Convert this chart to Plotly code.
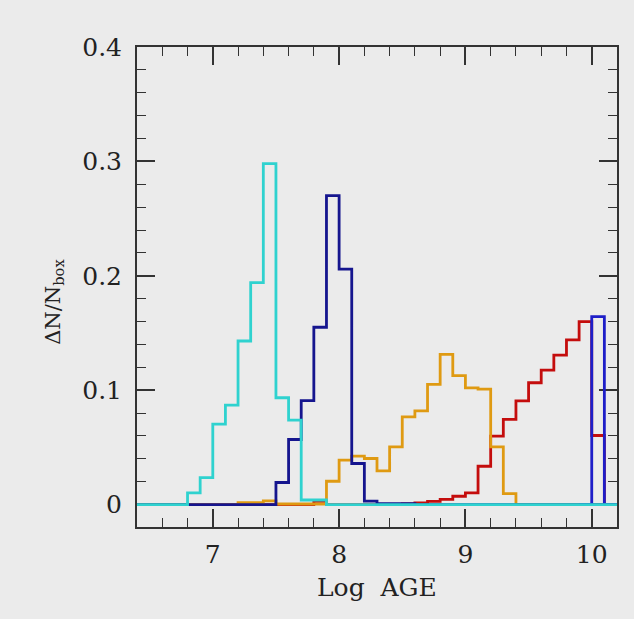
import plotly.graph_objects as go

# Bin edges (Log AGE)
log_age_edges = [6.4, 6.5, 6.6, 6.7, 6.8, 6.9, 7.0, 7.1, 7.2, 7.3,
                 7.4, 7.5, 7.6, 7.7, 7.8, 7.9, 8.0, 8.1, 8.2, 8.3,
                 8.4, 8.5, 8.6, 8.7, 8.8, 8.9, 9.0, 9.1, 9.2, 9.3,
                 9.4, 9.5, 9.6, 9.7, 9.8, 9.9, 10.0, 10.1, 10.2]

# Fractions per bin (dN/N_box), one value per bin (38 bins)
cyan_frac = [0, 0, 0, 0,
             0.0102, 0.0236, 0.0703, 0.087, 0.143, 0.194, 0.298, 0.0934, 0.0738, 0.0040, 0.0040,
             0, 0, 0, 0, 0, 0, 0, 0, 0, 0, 0, 0, 0, 0, 0, 0, 0, 0, 0, 0, 0, 0, 0]

navy_frac = [0, 0, 0, 0, 0, 0, 0, 0, 0, 0, 0,
             0.0193, 0.0569, 0.0908, 0.155, 0.270, 0.2058, 0.0359, 0.003, 0.0009, 0.0009, 0.0008,
             0, 0, 0, 0, 0, 0, 0, 0, 0, 0, 0, 0, 0, 0, 0, 0]

orange_frac = [0, 0, 0, 0, 0, 0, 0, 0,
               0.0017, 0.0017, 0.0033, 0.0005, 0.0005, 0.0005, 0.0005,
               0.0204, 0.0388, 0.0423, 0.0403, 0.0294, 0.0504, 0.0767, 0.082, 0.105, 0.1313,
               0.1128, 0.102, 0.101, 0.0504, 0.0096,
               0, 0, 0, 0, 0, 0, 0, 0]

red_frac = [0, 0, 0, 0, 0, 0, 0, 0, 0, 0, 0, 0, 0, 0,
            0.0028, 0, 0, 0, 0, 0, 0,
            0.0007, 0.0015, 0.0028, 0.0045, 0.0073, 0.0102, 0.0335, 0.0598, 0.0744,
            0.0906, 0.1065, 0.1176, 0.1307, 0.1439, 0.160, 0.0604, 0]

blue_frac = [None] * 35 + [0.0, 0.1643, 0.0]

series = [
    ("red", red_frac, "#c40d0d"),
    ("orange", orange_frac, "#df9a12"),
    ("navy", navy_frac, "#15158e"),
    ("blue", blue_frac, "#1e1ec8"),
    ("cyan", cyan_frac, "#2fd2cf"),
]

fig = go.Figure()
for name, vals, color in series:
    xs = list(log_age_edges)
    ys = list(vals) + [vals[-1]]
    fig.add_trace(go.Scatter(
        x=xs, y=ys, mode="lines", name=name,
        line=dict(shape="hv", color=color, width=2.8, simplify=False),
        connectgaps=False, showlegend=False, hoverinfo="skip", cliponaxis=False,
    ))

axis_common = dict(
    showline=True, linecolor="#333333", linewidth=2, mirror="ticks",
    ticks="inside", ticklen=18, tickwidth=1.6, tickcolor="#333333",
    showgrid=False, zeroline=False, layer="below traces",
    tickfont=dict(family="DejaVu Serif", size=25, color="#222222"),
)

fig.update_xaxes(
    range=[6.4, 10.2], tickvals=[7, 8, 9, 10], ticktext=["7", "8", "9", "10"],
    minor=dict(dtick=0.2, tick0=7, ticks="inside", ticklen=9, tickwidth=1.4, tickcolor="#333333", showgrid=False),
    ticklabelstandoff=4,
    **axis_common,
)
fig.update_yaxes(
    range=[-0.0196, 0.4], tickvals=[0, 0.1, 0.2, 0.3, 0.4], ticktext=["0", "0.1", "0.2", "0.3", "0.4"],
    minor=dict(dtick=0.02, tick0=0, ticks="inside", ticklen=9, tickwidth=1.4, tickcolor="#333333", showgrid=False),
    ticklabelstandoff=8,
    **axis_common,
)

fig.add_annotation(
    text="Log  AGE", xref="paper", yref="paper", x=0.5, y=-0.125,
    xanchor="center", yanchor="middle", showarrow=False,
    font=dict(family="DejaVu Serif", size=25, color="#222222"),
)
fig.add_annotation(
    text="ΔN/N<sub>box</sub>", xref="paper", yref="paper", x=-0.172, y=0.47,
    xanchor="center", yanchor="middle", showarrow=False, textangle=-90,
    font=dict(family="DejaVu Serif", size=21, color="#222222"),
)

fig.update_layout(
    width=634, height=619,
    margin=dict(l=137, r=17, t=47, b=92),
    paper_bgcolor="#ebebeb", plot_bgcolor="#ebebeb",
)

fig.write_html(
    "out.html",
    config={"displayModeBar": False},
    post_script="document.body.style.margin='0';document.body.style.background='#ebebeb';",
)
